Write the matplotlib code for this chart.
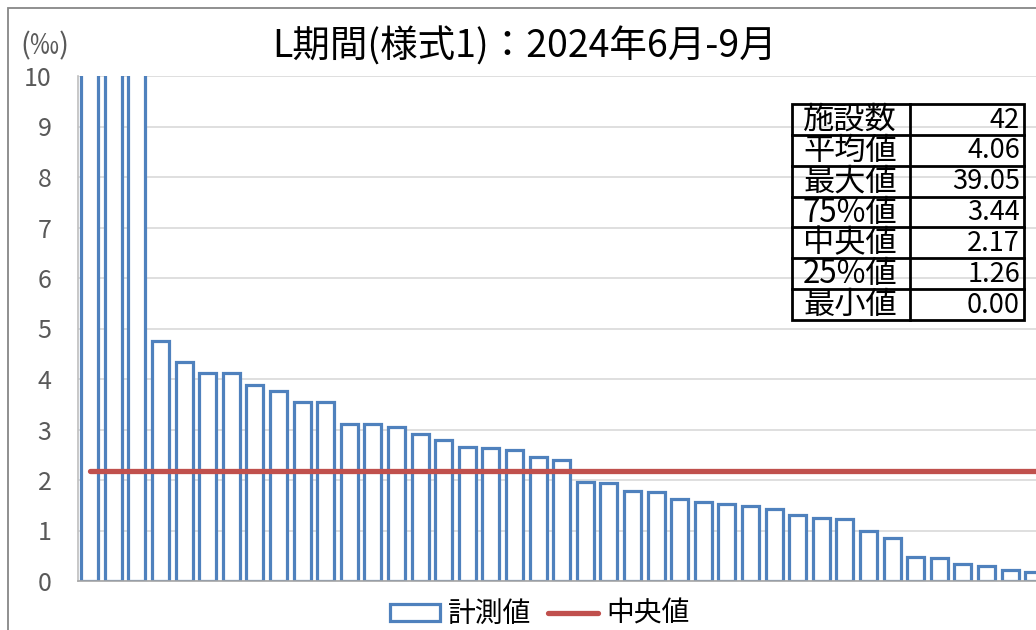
import numpy as np
import matplotlib
matplotlib.use('Agg')
import matplotlib.pyplot as plt
from matplotlib.patches import Rectangle, Patch
from matplotlib.lines import Line2D

plt.rcParams['font.family'] = ['Noto Sans CJK JP', 'DejaVu Sans']

# measured values, sorted descending (42 facilities)
values = [39.05, 26.40, 22.75, 4.76, 4.33, 4.12, 4.12, 3.88, 3.77, 3.55, 3.54,
          3.11, 3.11, 3.05, 2.91, 2.79, 2.65, 2.64, 2.59, 2.45, 2.39,
          1.96, 1.95, 1.78, 1.77, 1.62, 1.56, 1.52, 1.48, 1.43,
          1.31, 1.25, 1.22, 0.99, 0.85, 0.47, 0.46, 0.34, 0.30, 0.22, 0.18, 0.00]
median_val = 2.17

stat_labels = ['施設数', '平均値', '最大値', '75%値', '中央値', '25%値', '最小値']
stat_values = ['42', '4.06', '39.05', '3.44', '2.17', '1.26', '0.00']

title = 'L期間(様式1)：2024年6月-9月'
blue = '#4F81BD'
red = '#C0504D'

W, H = 1036, 630
fig = plt.figure(figsize=(W/100, H/100), dpi=100)

# outer chart border (cropped at right/bottom)
fig.patches.append(Rectangle((8/W, -0.1), 1.2, (H-8)/H + 0.1, transform=fig.transFigure,
                             fill=False, edgecolor='#878787', lw=1.3, zorder=0))

ax = fig.add_axes([78/W, (H-581)/H, 991/W, 505/H])
x = np.arange(len(values))
ax.bar(x, values, width=0.72, facecolor='white', edgecolor=blue, linewidth=2.3, zorder=2)
ax.plot(np.arange(len(values)), [median_val]*len(values), color=red, lw=3.8,
        solid_capstyle='round', zorder=3)

ax.set_xlim(-0.5, len(values)-0.5)
ax.set_ylim(0, 10)
ax.set_yticks(range(0, 11))
ax.set_xticks([])
ax.grid(axis='y', color='#D9D9D9', lw=1.2, zorder=0)
ax.set_axisbelow(True)
for s in ['top', 'right']:
    ax.spines[s].set_visible(False)
ax.spines['left'].set_color('#BFBFBF')
ax.spines['bottom'].set_color('#A6A6A6')
ax.spines['left'].set_linewidth(1.2)
ax.spines['bottom'].set_linewidth(1.2)
ax.tick_params(axis='y', length=0, pad=19, labelsize=18, labelcolor='#595959')

fig.text(20/W, 1-46/H, '(‰)', fontsize=21, color='#595959', va='center', ha='left')
fig.text(525/W, 1-47/H, title, fontsize=27, ha='center', va='center', color='black')

# stats table
tax = fig.add_axes([792/W, (H-320)/H, 232/W, 216/H])
tax.set_xlim(0, 232)
tax.set_ylim(7, 0)
tax.axis('off')
tax.add_patch(Rectangle((0, 0), 232, 7, fill=False, edgecolor='black', lw=2, clip_on=False))
tax.plot([118, 118], [0, 7], color='black', lw=2, clip_on=False)
for i in range(1, 7):
    tax.plot([0, 232], [i, i], color='black', lw=2, clip_on=False)
for i, (lab, val) in enumerate(zip(stat_labels, stat_values)):
    tax.text(58, i+0.52, lab, fontsize=22.5, ha='center', va='center')
    tax.text(228, i+0.52, val, fontsize=19.5, ha='right', va='center')

handles = [Patch(facecolor='white', edgecolor=blue, lw=2.3),
           Line2D([0], [0], color=red, lw=3.8, solid_capstyle='round')]
fig.legend(handles, ['計測値', '中央値'], loc='center', bbox_to_anchor=(540/W, 1-614/H),
           ncol=2, frameon=False, fontsize=20, handlelength=1.8, handleheight=0.55,
           columnspacing=0.6, handletextpad=0.3)

fig.savefig('out.png', dpi=100)
